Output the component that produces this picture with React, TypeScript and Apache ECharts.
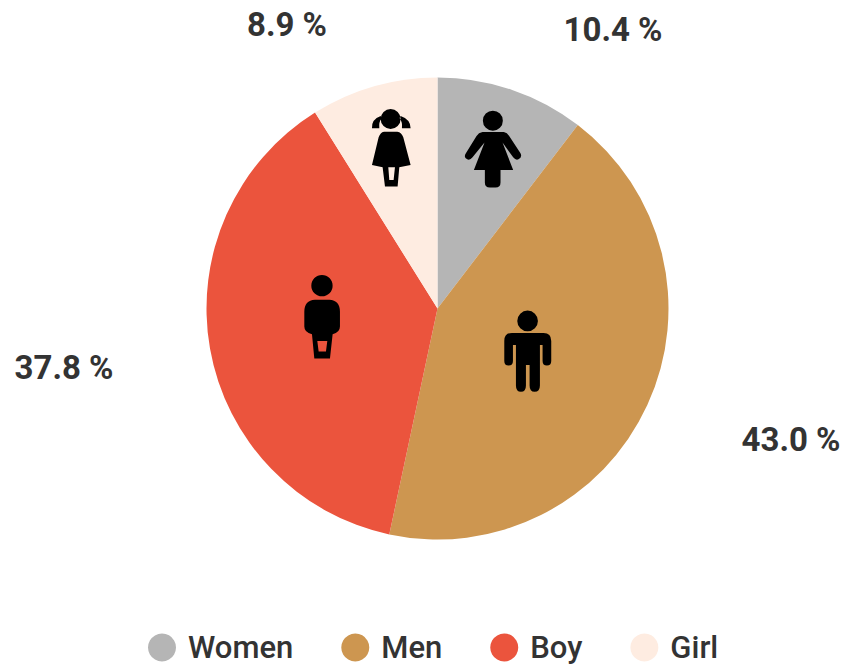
import React, { useEffect, useRef } from "react";
import * as echarts from "echarts";

const categories = ["Women", "Men", "Boy", "Girl"];
const values = [10.4, 43.0, 37.8, 8.9];
const colors = ["#b5b5b5", "#cd9650", "#eb543d", "#feece1"];
const labelSpots = [
  [613, 29],
  [791, 439],
  [64, 367],
  [287, 24],
];

const circle = (cx: number, cy: number, r: number) =>
  `M ${cx - r},${cy} A ${r},${r} 0 1 0 ${cx + r},${cy} A ${r},${r} 0 1 0 ${cx - r},${cy} Z`;

const girlPath =
  circle(122, 87, 30) +
  " M 92,78 Q 64,88 66,115 L 88,115 Q 86,96 95,84 Z" +
  " M 152,78 Q 182,88 182,115 L 156,115 Q 158,96 149,84 Z" +
  " M 102,125 L 142,125 Q 155,127 160,142 L 182,225 L 148,232 L 143,290 L 105,290 L 98,232 L 66,225 L 86,142 Q 91,127 102,125 Z" +
  " M 115,232 L 118,270 L 131,270 L 135,232 Z";

const womanPath =
  circle(429, 92, 30) +
  " M 398,126 L 462,126 Q 472,128 478,138 L 512,190 Q 518,202 506,208 Q 498,212 490,202 L 458,158 L 490,240 L 452,240 L 452,278 Q 452,293 437,293 L 420,293 Q 405,293 405,278 L 405,240 L 372,240 L 404,158 L 368,202 Q 360,212 352,208 Q 340,202 348,190 L 380,138 Q 386,128 398,126 Z";

const boyPath =
  circle(96, 62, 32) +
  " M 75,104 L 118,104 Q 150,106 150,140 L 150,185 Q 150,203 128,208 L 120,281 L 73,281 L 66,208 Q 43,203 43,185 L 43,140 Q 43,106 75,104 Z" +
  " M 82,228 L 86,260 L 108,260 L 112,228 Z";

const manPath =
  circle(712, 168, 31) +
  " M 665,204 L 760,204 Q 783,204 783,228 L 783,288 Q 783,302 770,302 Q 757,302 757,288 L 757,240 L 749,240 L 749,362 Q 749,381 733,381 Q 718,381 718,362 L 718,300 L 707,300 L 707,362 Q 707,381 692,381 Q 677,381 677,362 L 677,240 L 668,240 L 668,288 Q 668,302 655,302 Q 642,302 642,288 L 642,228 Q 642,204 665,204 Z";

echarts.graphic.registerShape("iconGirl", echarts.graphic.extendPath(girlPath, {}) as any);
echarts.graphic.registerShape("iconWoman", echarts.graphic.extendPath(womanPath, {}) as any);
echarts.graphic.registerShape("iconBoy", echarts.graphic.extendPath(boyPath, {}) as any);
echarts.graphic.registerShape("iconMan", echarts.graphic.extendPath(manPath, {}) as any);

export default function App() {
  const ref = useRef<HTMLDivElement>(null);
  useEffect(() => {
    const chart = echarts.init(ref.current!, null, { renderer: "svg" });
    const third = 1 / 3;
    const icon = (type: string, x: number, y: number) => ({
      type,
      x,
      y,
      scaleX: third,
      scaleY: third,
      z: 100,
      style: { fill: "#000000" },
    });
    chart.setOption({
      animation: false,
      backgroundColor: "#ffffff",
      legend: {
        data: categories,
        left: 148,
        top: 632,
        icon: "circle",
        itemWidth: 28,
        itemHeight: 28,
        itemGap: 48,
        padding: 0,
        textStyle: {
          fontFamily: "Roboto, sans-serif",
          fontWeight: 500,
          fontSize: 31,
          color: "#333333",
          padding: [0, 0, 0, 7],
        },
      },
      series: [
        {
          type: "pie",
          center: [437.5, 308.5],
          radius: [0, 231],
          startAngle: 90,
          clockwise: true,
          data: categories.map((name, i) => ({
            name,
            value: values[i],
            itemStyle: { color: colors[i] },
          })),
          label: {
            show: true,
            position: "outside",
            formatter: (p: any) => `${p.value.toFixed(1)} %`,
            fontFamily: "Roboto, sans-serif",
            fontWeight: "bold",
            fontSize: 33,
            color: "#333333",
          },
          labelLine: { show: false },
          labelLayout: (p: any) => ({
            x: labelSpots[p.dataIndex][0],
            y: labelSpots[p.dataIndex][1],
            align: "center",
            verticalAlign: "middle",
          }),
        },
      ],
      graphic: [
        icon("iconGirl", 350, 90),
        icon("iconWoman", 350, 90),
        icon("iconBoy", 290, 265),
        icon("iconMan", 290.5, 265),
      ],
    });
    return () => chart.dispose();
  }, []);
  return (
    <div
      ref={ref}
      style={{ position: "fixed", left: 0, top: 0, width: 843, height: 665 }}
    />
  );
}
